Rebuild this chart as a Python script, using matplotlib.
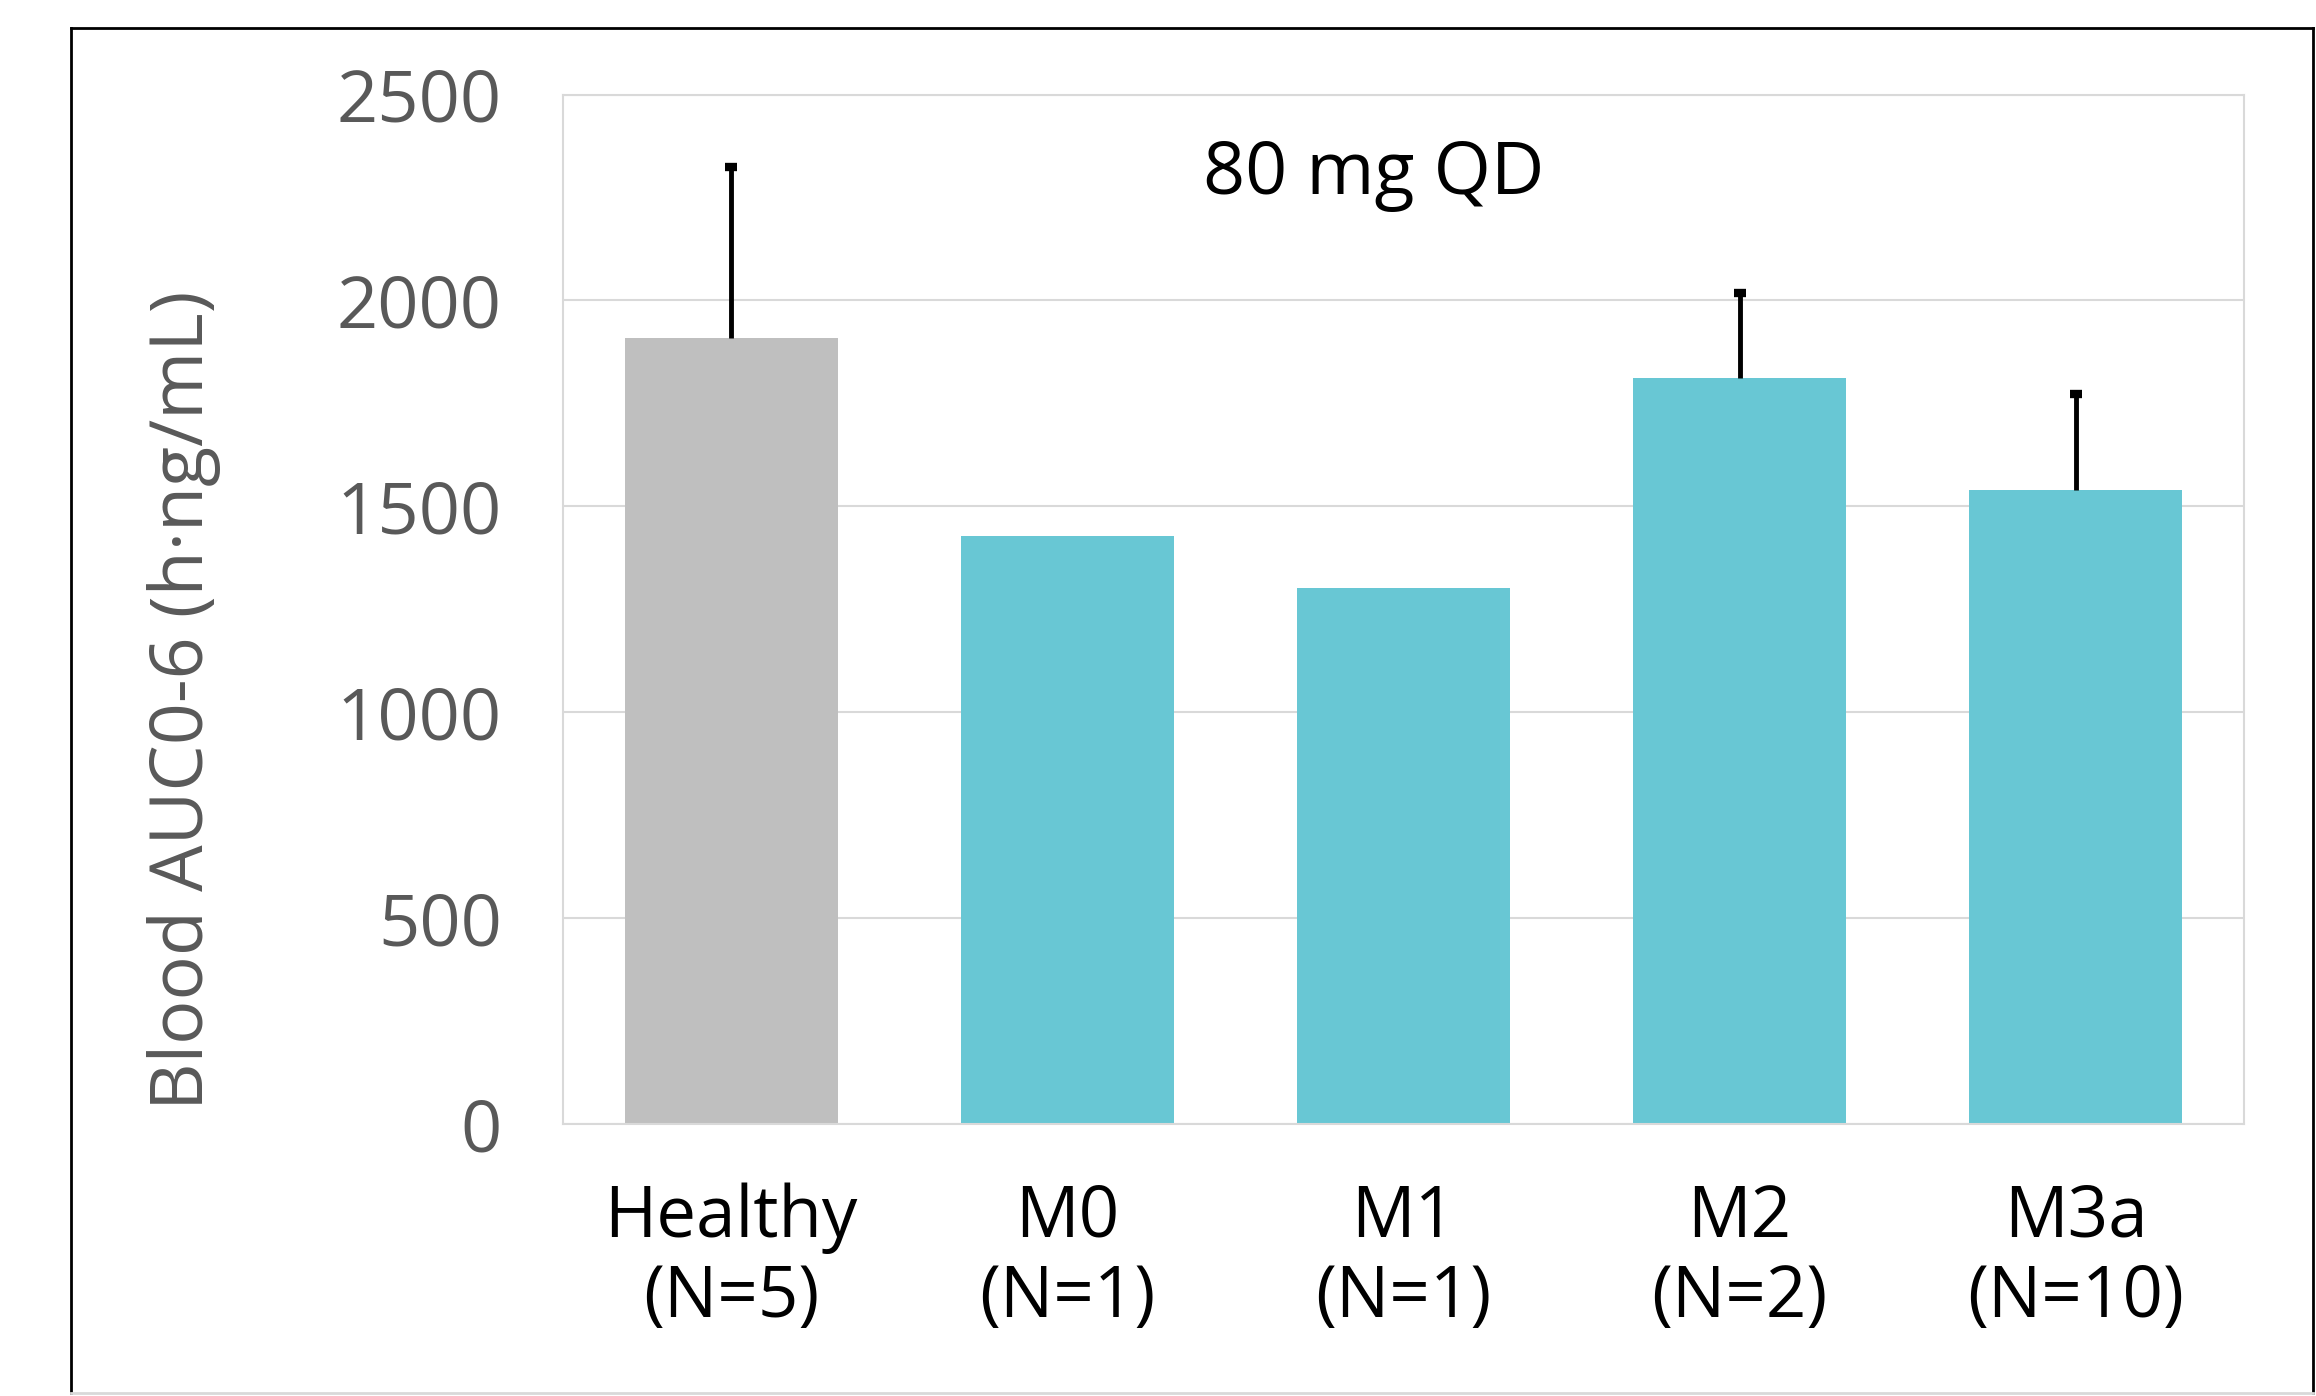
import numpy as np
import matplotlib.pyplot as plt
from matplotlib.lines import Line2D

# dados
grupos = ['Healthy\n(N=5)', 'M0\n(N=1)', 'M1\n(N=1)', 'M2\n(N=2)', 'M3a\n(N=10)']
auc_media = [1908, 1428, 1302, 1811, 1539]
auc_erro = [416, 0, 0, 208, 233]
cores = ['#BFBFBF', '#68C7D4', '#68C7D4', '#68C7D4', '#68C7D4']
y_ticks = [0, 500, 1000, 1500, 2000, 2500]

plt.rcParams['font.family'] = ['Open Sans', 'DejaVu Sans']

fig = plt.figure(figsize=(23.16, 13.96), dpi=100)
ax = fig.add_axes([0.2431, 0.1948, 0.7258, 0.7375])

x = np.arange(len(grupos))
ax.bar(x, auc_media, width=0.633, color=cores, zorder=2)

# barras de erro so para cima
tem_erro = [i for i in range(len(grupos)) if auc_erro[i] > 0]
_, caps, _ = ax.errorbar(x[tem_erro], [auc_media[i] for i in tem_erro],
                         yerr=[[0] * len(tem_erro), [auc_erro[i] for i in tem_erro]],
                         fmt='none', ecolor='black', elinewidth=3.5, capsize=4.5,
                         capthick=6, zorder=3)
caps[0].set_visible(False)  # sem cap embaixo

ax.set_xlim(-0.5, 4.5)
ax.set_ylim(0, 2500)
ax.set_yticks(y_ticks)
ax.set_yticklabels([str(v) for v in y_ticks], fontsize=52, color='#595959')
ax.set_xticks(x)
ax.set_xticklabels(grupos, fontsize=51, color='black', linespacing=1.15)
ax.tick_params(axis='y', length=0, pad=44)
ax.tick_params(axis='x', length=0, pad=42)

ax.grid(axis='y', color='#D9D9D9', linewidth=1.5, zorder=0)
for s in ax.spines.values():
    s.set_color('#D9D9D9')
    s.set_linewidth(1.5)

ax.set_ylabel('Blood AUC0-6 (h·ng/mL)', fontsize=53, color='#595959')
ax.yaxis.set_label_coords(-0.2034, 0.412)

ax.text(0.4824, 0.922, '80 mg QD', transform=ax.transAxes, ha='center', va='center',
        fontsize=53, color='black')

# moldura externa
fig.add_artist(Line2D([0.0307, 0.0307], [0.002, 0.98], color='black', linewidth=2))
fig.add_artist(Line2D([0.0307, 0.9987], [0.98, 0.98], color='black', linewidth=2))
fig.add_artist(Line2D([0.9987, 0.9987], [0.002, 0.98], color='black', linewidth=2))
fig.add_artist(Line2D([0.0307, 0.9987], [0.002, 0.002], color='#D9D9D9', linewidth=2))

fig.savefig('out.png', dpi=100, facecolor='white')
